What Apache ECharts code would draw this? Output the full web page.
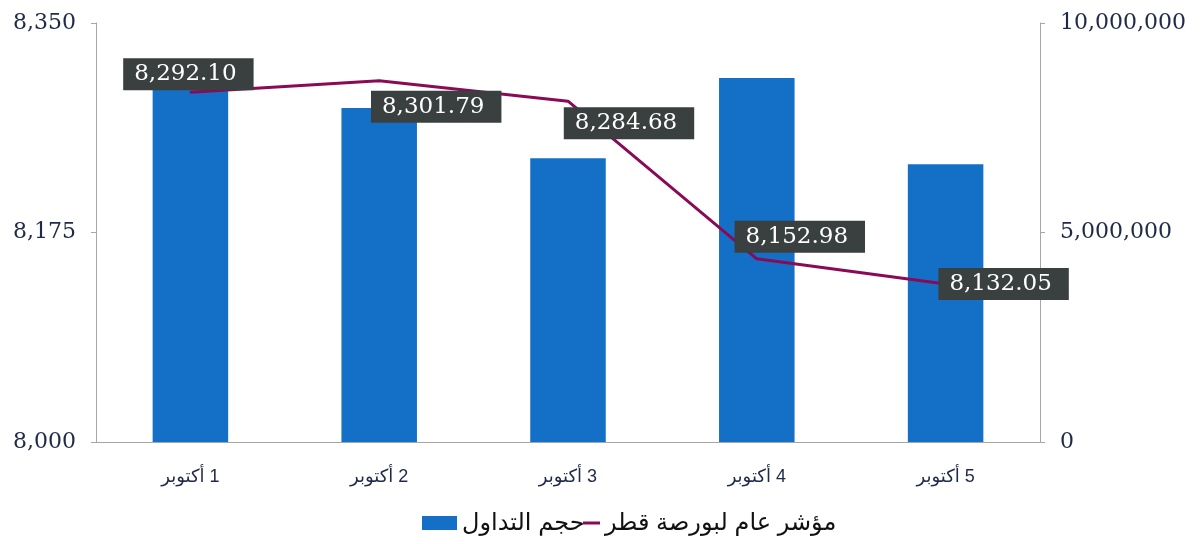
<!DOCTYPE html>
<html lang="ar">

<head>
  <meta charset="utf-8">
  <title>حجم التداول ومؤشر بورصة قطر</title>
  <script src="https://cdn.jsdelivr.net/npm/echarts@6/dist/echarts.min.js"></script>
  <style>
    html, body { margin: 0; padding: 0; background: #fff; }
    #main { width: 1200px; height: 544px; }
  </style>
</head>

<body>
  <div id="main"></div>

  <script>
    // 数据
    var categories = ['1 أكتوبر', '2 أكتوبر', '3 أكتوبر', '4 أكتوبر', '5 أكتوبر'];
    var volumeValues = [8470000, 7970000, 6770000, 8690000, 6630000];
    var indexValues = [8292.10, 8301.79, 8284.68, 8152.98, 8132.05];
    // 标签相对于数据点的偏移
    var labelOffsets = [[-2, -18], [57, 26], [61, 22], [43, -22], [58, 0]];

    var serif = '"DejaVu Serif", serif';
    var sans = '"Liberation Sans", "DejaVu Sans", sans-serif';
    var axisColor = '#a6a6a6';
    var textColor = '#1f2a48';
    var lineColor = '#8a0a56';

    var myChart = echarts.init(document.getElementById('main'));

    var legendText = { fontFamily: sans, fontSize: 24, color: '#111' };

    var option = {
      animation: false,
      grid: {
        left: 96,
        right: 160,
        top: 23,
        bottom: 102
      },
      // 两个图例，柱子和折线的图标宽度不同
      legend: [{
        left: 417,
        top: 506,
        itemWidth: 35,
        itemHeight: 14,
        textStyle: legendText,
        data: [{ name: 'حجم التداول', icon: 'rect' }]
      }, {
        left: 578,
        top: 506,
        itemWidth: 17,
        itemHeight: 3,
        textStyle: legendText,
        data: [{ name: 'مؤشر عام لبورصة قطر', icon: 'rect', itemStyle: { color: lineColor } }]
      }],
      xAxis: [{
        type: 'category',
        data: categories,
        axisLine: { lineStyle: { color: axisColor } },
        axisTick: { length: 7, lineStyle: { color: axisColor } },
        axisLabel: {
          margin: 26,
          fontFamily: sans,
          fontSize: 18,
          color: textColor,
          // 用 RLM 保持阿拉伯文的从右到左顺序
          formatter: function (value) {
            return '\u200F' + value;
          }
        }
      }],
      yAxis: [{
        type: 'value',
        min: 8000,
        max: 8350,
        interval: 175,
        position: 'left',
        axisLine: { show: true, lineStyle: { color: axisColor } },
        axisTick: { show: true, length: 5, lineStyle: { color: axisColor } },
        splitLine: { show: false },
        axisLabel: {
          margin: 20,
          fontFamily: serif,
          fontSize: 22,
          color: textColor,
          formatter: function (value) {
            return value.toLocaleString('en-US');
          }
        }
      }, {
        type: 'value',
        min: 0,
        max: 10000000,
        interval: 5000000,
        position: 'right',
        axisLine: { show: true, lineStyle: { color: axisColor } },
        axisTick: { show: true, length: 5, lineStyle: { color: axisColor } },
        splitLine: { show: false },
        axisLabel: {
          margin: 20,
          fontFamily: serif,
          fontSize: 22,
          color: textColor,
          formatter: function (value) {
            return value.toLocaleString('en-US');
          }
        }
      }],
      series: [{
        name: 'حجم التداول',
        type: 'bar',
        yAxisIndex: 1,
        barWidth: '40%',
        itemStyle: { color: '#1470c6' },
        data: volumeValues
      }, {
        name: 'مؤشر عام لبورصة قطر',
        type: 'line',
        yAxisIndex: 0,
        symbol: 'circle',
        symbolSize: 2,
        showSymbol: true,
        itemStyle: { color: lineColor },
        lineStyle: { color: lineColor, width: 3 },
        z: 3,
        label: {
          show: true,
          position: 'inside',
          fontFamily: serif,
          fontSize: 23,
          color: '#fff',
          backgroundColor: '#3a403f',
          padding: [5, 17, 4, 11],
          formatter: function (p) {
            return p.value.toLocaleString('en-US', { minimumFractionDigits: 2, maximumFractionDigits: 2 });
          }
        },
        data: indexValues.map(function (v, i) {
          return { value: v, label: { offset: labelOffsets[i] } };
        })
      }]
    };

    myChart.setOption(option);
  </script>
</body>

</html>
